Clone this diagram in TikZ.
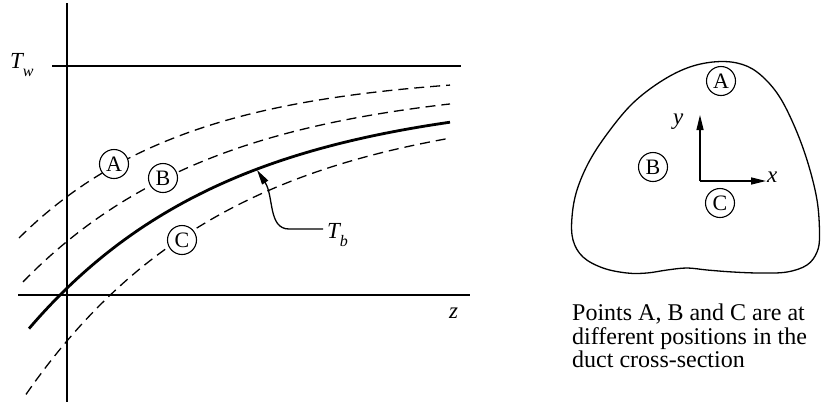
\documentclass[tikz,border=0pt]{standalone}
\usepackage{fontspec}
\setmainfont{Liberation Serif}
\usetikzlibrary{arrows.meta}
\newcommand\mysub[2]{\raisebox{-#1}{\fontsize{16}{18}\selectfont #2}}
\begin{document}
\begin{tikzpicture}[x=1pt,y=-1pt,
  axis/.style={line width=1.4pt},
  dcurve/.style={line width=1.3pt, dash pattern=on 10pt off 6pt},
  scurve/.style={line width=2.8pt},
  ptc/.style={circle, draw, line width=1.1pt, fill=white, minimum size=29pt, inner sep=0pt, font=\fontsize{22}{24}\selectfont},
  lab/.style={inner sep=0pt, font=\fontsize{23}{26}\selectfont\itshape},
  tip/.style={-{Triangle[length=15pt,width=7pt]}, line width=1.3pt}
]
\useasboundingbox (0,0) rectangle (821,405);
% axes of the graph
\coordinate (vtop) at (67,3);
\coordinate (vbot) at (67,402);
\coordinate (hl) at (18,295);
\coordinate (hr) at (470,295);
\coordinate (wl) at (52,66);
\coordinate (wr) at (461,66);
\draw[axis] (vtop) -- (vbot);
\draw[axis] (hl) -- (hr);
\draw[axis] (wl) -- (wr);
\node[lab, anchor=base west] (tw) at (10,68) {T\mysub{8pt}{w}};
\node[lab, anchor=base west] (z) at (449,318) {z};
% curves
\draw[dcurve] plot[domain=19:450, samples=80] (\x, {72.6+75.4*exp(-0.006*(\x-150))});
\draw[dcurve] plot[domain=23:450, samples=80] (\x, {81.5+104.5*exp(-0.00512*(\x-150))});
\draw[dcurve] plot[domain=26:450, samples=80] (\x, {102+158.7*exp(-0.00493*(\x-150))});
\draw[scurve] plot[domain=29:450, samples=80] (\x, {93+129.3*exp(-0.004956*(\x-150))});
\node[ptc] (a1) at (114,164) {A};
\node[ptc] (b1) at (163,178) {B};
\node[ptc] (c1) at (182,240) {C};
% T_b label and arrow
\node[lab, anchor=base west] (tb) at (327,238) {T\mysub{8pt}{b}};
\coordinate (tbs) at (323,229);
\coordinate (tbe) at (257,170);
\draw[tip] (tbs) -- (289,229) .. controls (268,229) and (274,196) .. (tbe);
% cross-section
\draw[line width=1.3pt] plot[smooth cycle, tension=0.6] coordinates {
 (713,62) (687,68) (660,82) (633,103) (610,130) (590,160) (577,190)
 (572,217) (573,240) (583,257) (603,268) (627,273) (647,273) (667,270)
 (687,268) (707,270) (733,272) (760,273) (787,272) (807,265) (817,252)
 (819.5,235) (817,200) (807,160) (793,123) (777,93) (757,72) (737,63)};
\node[ptc] (a2) at (721,81) {A};
\node[ptc] (b2) at (653,167) {B};
\node[ptc] (c2) at (720,203) {C};
\coordinate (o) at (700,181);
\node[lab, anchor=base west] (ylab) at (673,124) {y};
\node[lab, anchor=base west] (xlab) at (767,182) {x};
\draw[tip] (o) -- (700,115);
\draw[tip] (o) -- (766,181);
% caption
\node[anchor=north west, inner sep=0pt, align=left, font=\fontsize{24}{23.7}\selectfont] (cap) at (572,303.5)
 {Points A, B and C are at\\different positions in the\\duct cross-section};
\end{tikzpicture}
\end{document}
